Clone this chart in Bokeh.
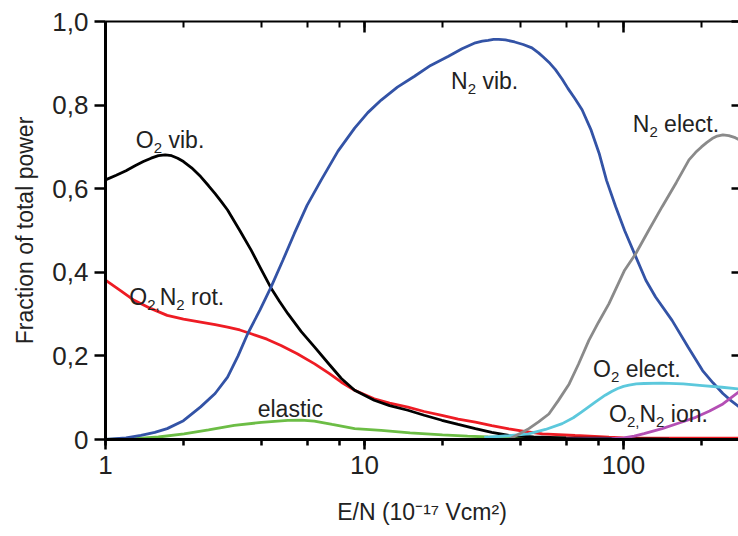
from bokeh.plotting import figure
from bokeh.models import (LogAxis, LinearAxis, FixedTicker, LogTicker, CustomJSTickFormatter, Label, Range1d)
from bokeh.embed import file_html
from bokeh.resources import INLINE

# ---------------- data ----------------
o2vib_x = [1.0, 1.1, 1.2, 1.3, 1.4, 1.5, 1.6, 1.7, 1.8, 1.9, 2.0, 2.15, 2.33, 2.5, 2.65, 2.8, 2.96, 3.3,
           3.65, 4.0, 4.36, 4.7, 5.06, 5.7, 6.42, 7.3, 8.14, 9.16, 10.9, 12.5, 14.7, 17.0, 19.9, 23.0,
           26.8, 31.0, 36.1, 45.0, 60.0, 80.0, 100.0, 150.0, 280.0]
o2vib_y = [0.621, 0.632, 0.643, 0.655, 0.665, 0.673, 0.679, 0.681, 0.679, 0.673, 0.665, 0.650, 0.629,
           0.607, 0.588, 0.569, 0.549, 0.500, 0.453, 0.406, 0.362, 0.330, 0.301, 0.258, 0.221, 0.180,
           0.146, 0.118, 0.094, 0.081, 0.070, 0.058, 0.046, 0.036, 0.026, 0.017, 0.0096, 0.006, 0.004,
           0.003, 0.002, 0.001, 0.0]

rot_x = [1.0, 1.15, 1.29, 1.5, 1.73, 2.0, 2.33, 2.65, 2.96, 3.3, 3.65, 4.2, 4.76, 5.5, 6.42, 7.3, 8.14,
         9.16, 10.9, 12.5, 14.7, 17.0, 19.9, 23.0, 26.8, 31.0, 36.1, 42.0, 48.6, 65.0, 87.9, 100.0, 150.0, 280.0]
rot_y = [0.381, 0.355, 0.333, 0.313, 0.297, 0.288, 0.281, 0.275, 0.269, 0.262, 0.253, 0.240, 0.225,
         0.205, 0.181, 0.158, 0.137, 0.118, 0.0975, 0.087, 0.0775, 0.067, 0.0576, 0.049, 0.0415, 0.033,
         0.0256, 0.019, 0.0136, 0.0096, 0.0056, 0.004, 0.003, 0.003]

n2vib_x = [1.0, 1.2, 1.37, 1.55, 1.73, 2.0, 2.33, 2.65, 2.96, 3.25, 3.54, 3.95, 4.36, 4.85, 5.36, 6.0,
           6.81, 7.9, 9.16, 10.3, 11.6, 13.4, 15.6, 18.0, 21.1, 23.8, 26.8, 28.5, 30.0, 31.5, 33.0, 35.0,
           38.0, 41.0, 44.3, 47.0, 49.0, 52.0, 54.6, 58.0, 61.0, 65.0, 69.2, 75.0, 80.5, 86.0, 93.3,
           101.0, 111.6, 122.0, 133.0, 154.0, 178.0, 202.0, 222.0, 242.0, 260.0, 280.0]
n2vib_y = [0.0, 0.004, 0.0096, 0.017, 0.026, 0.045, 0.078, 0.110, 0.149, 0.200, 0.253, 0.310, 0.365,
           0.430, 0.493, 0.560, 0.621, 0.690, 0.745, 0.782, 0.812, 0.843, 0.869, 0.895, 0.917, 0.935,
           0.949, 0.953, 0.955, 0.957, 0.957, 0.956, 0.951, 0.945, 0.937, 0.925, 0.915, 0.900, 0.885,
           0.862, 0.840, 0.815, 0.789, 0.740, 0.685, 0.620, 0.557, 0.500, 0.437, 0.381, 0.341, 0.285,
           0.220, 0.165, 0.135, 0.110, 0.093, 0.078]

elastic_x = [1.0, 1.3, 1.6, 2.01, 2.5, 3.14, 4.0, 5.06, 5.7, 6.4, 7.5, 9.16, 11.6, 15.0, 20.0, 25.0,
             30.0, 40.0, 60.0, 100.0, 280.0]
elastic_y = [0.0, 0.002, 0.006, 0.0136, 0.023, 0.0336, 0.041, 0.0456, 0.0465, 0.044, 0.036, 0.026,
             0.0216, 0.016, 0.011, 0.008, 0.006, 0.004, 0.003, 0.002, 0.002]

n2el_x = [1.0, 36.0, 40.0, 43.1, 47.0, 51.5, 56.0, 61.7, 67.0, 73.5, 80.0, 87.9, 95.0, 101.0, 111.6,
          125.0, 141.0, 160.0, 179.0, 190.0, 200.0, 210.0, 220.0, 230.0, 242.0, 255.0, 270.0, 280.0]
n2el_y = [0.0, 0.0, 0.015, 0.026, 0.042, 0.061, 0.093, 0.133, 0.180, 0.237, 0.280, 0.325, 0.370, 0.405,
          0.445, 0.500, 0.557, 0.615, 0.669, 0.687, 0.700, 0.711, 0.720, 0.726, 0.729, 0.727, 0.722, 0.717]

o2el_x = [29.0, 36.0, 43.0, 50.0, 58.0, 64.0, 69.0, 78.0, 85.0, 90.0, 95.0, 100.0, 105.0, 112.0, 120.0,
          141.0, 170.0, 202.0, 240.0, 280.0]
o2el_y = [0.005, 0.009, 0.0136, 0.024, 0.038, 0.052, 0.066, 0.090, 0.106, 0.115, 0.122, 0.127, 0.130,
          0.133, 0.134, 0.135, 0.133, 0.129, 0.125, 0.121]

ion_x = [35.0, 60.0, 90.0, 100.0, 110.0, 120.0, 141.0, 165.0, 190.0, 215.0, 242.0, 280.0]
ion_y = [0.0, 0.001, 0.002, 0.004, 0.008, 0.014, 0.026, 0.040, 0.053, 0.068, 0.085, 0.115]

y_ticks = [0, 0.2, 0.4, 0.6, 0.8, 1.0]

# label anchors (data coords) and pieces: (text, is_subscript)
labels = [
    (1.31, 0.717, [("O", False), ("2", True), (" vib.", False)]),
    (1.235, 0.341, [("O", False), ("2,", True), ("N", False), ("2", True), (" rot.", False)]),
    (3.87, 0.0736, [("elastic", False)]),
    (21.6, 0.857, [("N", False), ("2", True), (" vib.", False)]),
    (108.6, 0.755, [("N", False), ("2", True), (" elect.", False)]),
    (76.3, 0.1695, [("O", False), ("2", True), (" elect.", False)]),
    (88.0, 0.0616, [("O", False), ("2,", True), ("N", False), ("2", True), (" ion.", False)]),
]

# ---------------- styling ----------------
FONT = "Liberation Sans"
MAIN_PX = 23
SUB_PX = 15
WIDTHS = {"O": 0.778, "N": 0.722, "2": 0.556, ",": 0.278, " ": 0.278}

p = figure(width=738, height=536, x_axis_type="log",
           x_range=Range1d(1, 278), y_range=Range1d(0, 1.0),
           output_backend="svg", toolbar_location=None,
           min_border_left=105, min_border_right=0, min_border_top=21, min_border_bottom=97)
p.outline_line_color = None
p.xgrid.visible = False
p.ygrid.visible = False
p.background_fill_color = "white"
p.border_fill_color = "white"

lw = 2.8
p.line(elastic_x, elastic_y, line_color="#6cbd45", line_width=lw)
p.line(rot_x, rot_y, line_color="#ee1c24", line_width=lw)
p.line(o2vib_x, o2vib_y, line_color="#000000", line_width=lw)
p.line(n2vib_x, n2vib_y, line_color="#3353a6", line_width=lw)
p.line(o2el_x, o2el_y, line_color="#5cc8dc", line_width=lw)
p.line(ion_x, ion_y, line_color="#b44fb4", line_width=lw)
p.line(n2el_x, n2el_y, line_color="#8a8a8a", line_width=lw)

# bottom axis
xa = p.xaxis[0]
xa.ticker = LogTicker()
xa.formatter = CustomJSTickFormatter(code="return Math.round(tick).toString();")
xa.axis_line_width = 3
xa.major_tick_line_width = 2.5
xa.minor_tick_line_width = 2.5
xa.major_tick_out = 10
xa.major_tick_in = 0
xa.minor_tick_out = 6
xa.minor_tick_in = 0
xa.major_label_text_font = FONT
xa.major_label_text_font_size = "26px"
xa.major_label_text_color = "#222222"
xa.major_label_standoff = 6
xa.axis_label = "E/N (10\u207b\u00b9\u2077 Vcm\u00b2)"
xa.axis_label_text_font = FONT
xa.axis_label_text_font_size = "23px"
xa.axis_label_text_font_style = "normal"
xa.axis_label_text_color = "#222222"
xa.axis_label_standoff = 22

# left axis
ya = p.yaxis[0]
ya.ticker = FixedTicker(ticks=y_ticks)
ya.formatter = CustomJSTickFormatter(code="return tick == 0 ? '0' : tick.toFixed(1).replace('.', ',');")
ya.axis_line_width = 3
ya.major_tick_line_width = 2.5
ya.major_tick_out = 11
ya.major_tick_in = 0
ya.minor_tick_line_color = None
ya.major_label_text_font = FONT
ya.major_label_text_font_size = "26px"
ya.major_label_text_color = "#222222"
ya.major_label_standoff = 6
ya.axis_label = "Fraction of total power"
ya.axis_label_text_font = FONT
ya.axis_label_text_font_size = "23px"
ya.axis_label_text_font_style = "normal"
ya.axis_label_text_color = "#222222"
ya.axis_label_standoff = 11

# top axis (ticks only, inward)
top = LogAxis(ticker=LogTicker(), formatter=CustomJSTickFormatter(code="return '';"))
top.axis_line_width = 2
top.major_tick_line_width = 2.5
top.minor_tick_line_width = 2
top.major_tick_in = 11
top.major_tick_out = 0
top.minor_tick_in = 6
top.minor_tick_out = 0
top.major_label_text_font_size = "0px"
top.major_label_standoff = 0
p.add_layout(top, "above")

# right axis (ticks only, inward, no line)
right = LinearAxis(ticker=FixedTicker(ticks=y_ticks), formatter=CustomJSTickFormatter(code="return '';"))
right.axis_line_color = None
right.major_tick_line_width = 2.5
right.major_tick_in = 7
right.major_tick_out = 0
right.minor_tick_line_color = None
right.major_label_text_font_size = "0px"
right.major_label_standoff = 0
p.add_layout(right, "right")

# curve annotations built from pieces
for lx, ly, pieces in labels:
    off = 0.0
    for txt, sub in pieces:
        size = SUB_PX if sub else MAIN_PX
        lead = len(txt) - len(txt.lstrip(" "))
        off += lead * WIDTHS[" "] * size
        body = txt.lstrip(" ")
        p.add_layout(Label(x=lx, y=ly, text=body, x_offset=off, y_offset=-8 if sub else 0,
                           text_font=FONT, text_font_size=f"{size}px", text_color="#222222",
                           text_baseline="alphabetic", text_align="left"))
        off += sum(WIDTHS.get(ch, 0.5) for ch in body) * size

open("out.html", "w").write(file_html(p, INLINE))
